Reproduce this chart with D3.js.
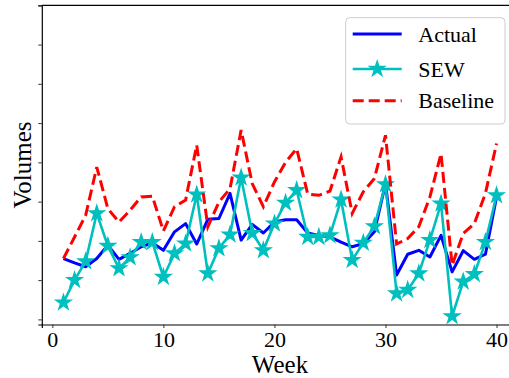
<!DOCTYPE html>
<html><head><meta charset="utf-8">
<script src="https://cdn.jsdelivr.net/npm/d3@7/dist/d3.min.js"></script>
<style>html,body{margin:0;padding:0;background:#fff;overflow:hidden}svg{display:block}
svg text{font-family:"Liberation Serif","Times New Roman",serif !important;fill:#000}</style>
</head><body>
<script>
const weeks = d3.range(1, 41);
const actual = [155,144,134,155,189,153,168,185,195,176,223,244,192,255,257,321,202,242,220,248,
                254,254,220,214,210,197,185,193,223,346,113,166,176,159,214,121,175,153,166,312];
const sew    = [43,100,148,270,187,130,158,197,197,108,168,193,318,117,181,216,361,220,176,244,
                297,329,210,210,214,305,151,195,237,344,66,75,117,202,295,8,96,115,197,316];
const baseline = [155,210,265,388,282,248,278,312,314,225,287,304,444,236,299,333,482,346,287,350,
                  400,435,319,316,327,414,270,325,359,469,192,206,236,312,422,138,219,244,321,448];
const xTicks = [0, 10, 20, 30, 40];
const yTicks = [0, 100, 200, 300, 400, 500, 600, 700, 800];
const seriesNames = ["Actual", "SEW", "Baseline"];

const W = 509, H = 378;
const svg = d3.select("body").append("svg").attr("width", W).attr("height", H);
const x = d3.scaleLinear().domain([-0.95, 41.95]).range([41.8, 518.2]);
const y = d3.scaleLinear().domain([-13, 800]).range([324.5, 5.3]);

svg.append("defs").append("clipPath").attr("id","c").append("rect")
  .attr("x", 41.8).attr("y", 5.3).attr("width", 520).attr("height", 324.5-5.3);

const xa = svg.append("g").attr("transform", "translate(0,324.5)")
  .call(d3.axisBottom(x).tickValues(xTicks).tickSize(3.5).tickPadding(3).tickFormat(d3.format("d")));
xa.select(".domain").attr("stroke","#000").attr("stroke-width",1.2);
xa.selectAll("text").style("font-size","22px");
const ya = svg.append("g").attr("transform", "translate(41.8,0)")
  .call(d3.axisLeft(y).tickValues(yTicks).tickSize(3.5).tickFormat(""));
ya.select(".domain").attr("stroke","#000").attr("stroke-width",1.2);
xa.selectAll(".tick line").attr("stroke","#333");
ya.selectAll(".tick line").attr("stroke","#333");
svg.append("line").attr("x1",41.8).attr("x2",W).attr("y1",5.3).attr("y2",5.3).attr("stroke","#000").attr("stroke-width",1.2);

const g = svg.append("g").attr("clip-path","url(#c)");
const line = d3.line().x((d,i)=>x(weeks[i])).y(d=>y(d));
g.append("path").datum(actual).attr("d", line).attr("fill","none").attr("stroke","#0000ff").attr("stroke-width",3).attr("stroke-linejoin","round");
g.append("path").datum(sew).attr("d", line).attr("fill","none").attr("stroke","#00bfbf").attr("stroke-width",2.6).attr("stroke-linejoin","round");
const star = d3.symbol().type(d3.symbolStar).size(115);
g.selectAll(".st").data(sew).enter().append("path")
  .attr("transform",(d,i)=>`translate(${x(weeks[i])},${y(d)})`)
  .attr("d", star).attr("fill","#00bfbf");
g.append("path").datum(baseline).attr("d", line).attr("fill","none").attr("stroke","#ff0000").attr("stroke-width",3).attr("stroke-dasharray","11,5");

svg.append("text").attr("x", 280).attr("y", 373).attr("text-anchor","middle")
  .style("font-size","25px").text("Week");
svg.append("text").attr("transform","translate(31,165) rotate(-90)").attr("text-anchor","middle")
  .style("font-size","25px").text("Volumes");

const lg = svg.append("g");
lg.append("rect").attr("x",345.7).attr("y",17.7).attr("width",159.3).attr("height",106.3).attr("rx",4)
  .attr("fill","#fff").attr("fill-opacity",0.8).attr("stroke","#ccc").attr("stroke-width",1);
const ly = [34, 69, 100.7];
const lstyles = [{c:"#0000ff",w:3,d:null},{c:"#00bfbf",w:2.6,d:null},{c:"#ff0000",w:3,d:"11,5"}];
seriesNames.forEach((n,i)=>{
  lg.append("line").attr("x1",352.7).attr("x2",401.7).attr("y1",ly[i]).attr("y2",ly[i])
    .attr("stroke",lstyles[i].c).attr("stroke-width",lstyles[i].w).attr("stroke-dasharray",lstyles[i].d);
  if(i===1) lg.append("path").attr("transform",`translate(377.2,${ly[i]})`).attr("d",star).attr("fill","#00bfbf");
  lg.append("text").attr("x",418.3).attr("y",ly[i]+7.5).style("font-size","22px").text(n);
});
</script>
</body></html>
